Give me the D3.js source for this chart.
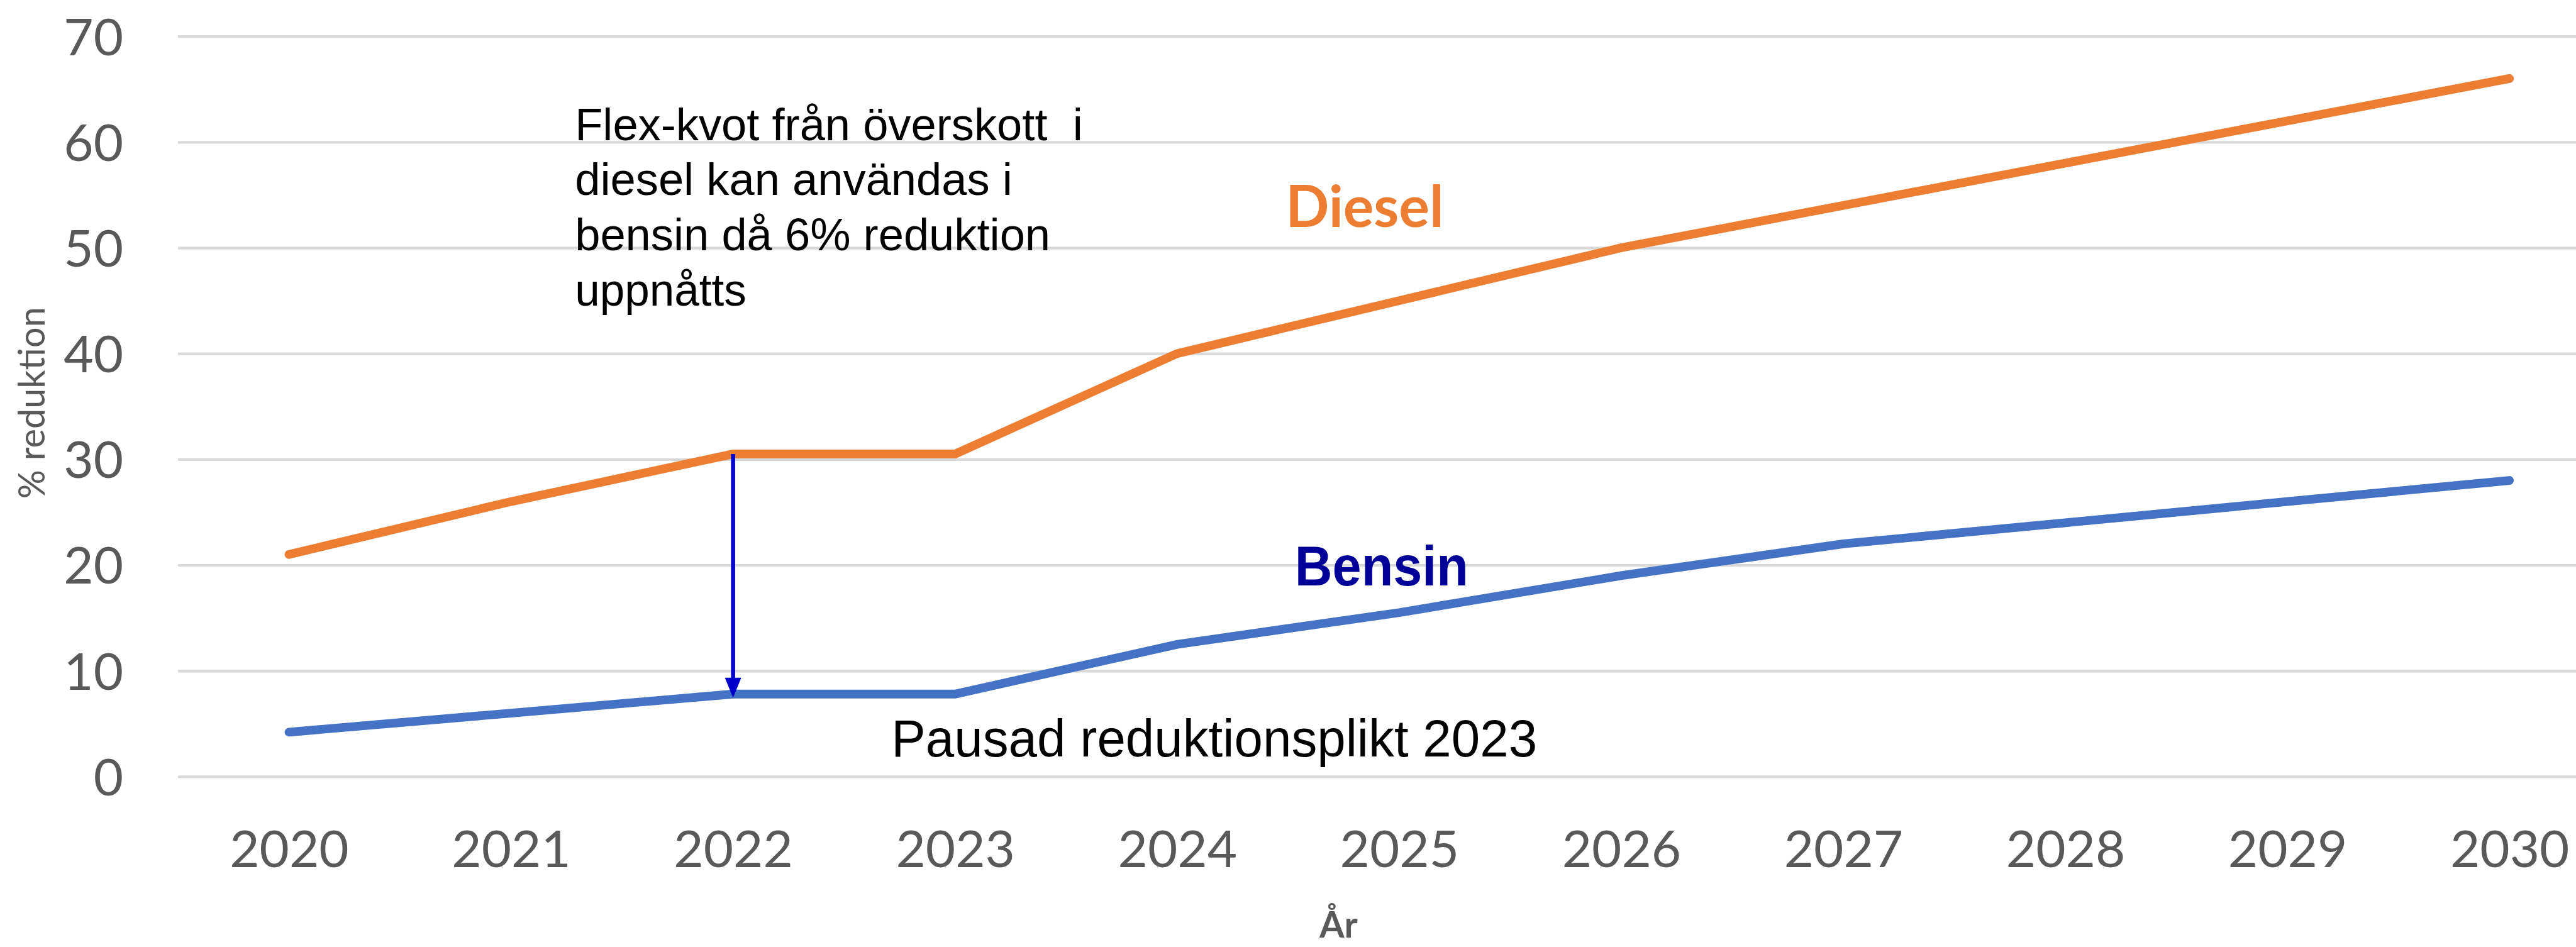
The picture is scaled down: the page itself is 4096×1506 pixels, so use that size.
<!DOCTYPE html>
<html>
<head>
<meta charset="utf-8">
<script src="https://cdn.jsdelivr.net/npm/d3@7"></script>
<style>
	html, body { margin: 0; padding: 0; background: #fff; }
	svg { display: block; }
	text { white-space: pre; }
</style>
</head>
<body>
<div id="chart"></div>
<script>
// data
var years = ['2020', '2021', '2022', '2023', '2024', '2025', '2026', '2027', '2028', '2029', '2030'];
var diesel = [21, 26, 30.5, 30.5, 40, 45, 50, 54, 58, 62, 66];
var bensin = [4.2, 6, 7.8, 7.8, 12.5, 15.5, 19, 22, 24, 26, 28];
var yTicks = [0, 10, 20, 30, 40, 50, 60, 70];
var flexLines = ['Flex-kvot från överskott  i', 'diesel kan användas i', 'bensin då 6% reduktion', 'uppnåtts'];

// everything is laid out in reference pixels and scaled down
var k = 0.86;
var width = 4096, height = 1506;

var svg = d3.select('#chart')
	.append('svg')
	.attr('width', width)
	.attr('height', height)
	.style('overflow', 'hidden');

// scales
var x = d3.scalePoint()
	.domain(years)
	.range([329 * k, 4845 * k])
	.padding(0.5);
var y = d3.scaleLinear()
	.domain([0, 70])
	.range([1436 * k, 67 * k]);

// gridlines + y labels
var yAxis = svg.append('g')
	.attr('transform', 'translate(' + (329 * k) + ',0)')
	.call(d3.axisLeft(y).tickValues(yTicks).tickSize(-(4845 - 329) * k).tickPadding(0));
yAxis.select('.domain').remove();
yAxis.selectAll('.tick line')
	.attr('stroke', '#d9d9d9')
	.attr('stroke-width', 4.3);
yAxis.selectAll('.tick text')
	.attr('x', -(329 - 228) * k)
	.attr('dy', null)
	.attr('y', 0.36 * 81.7)
	.attr('fill', '#595959')
	.style('font-family', 'Lato, sans-serif')
	.style('font-size', '81.7px');

// x labels
var xAxis = svg.append('g')
	.attr('transform', 'translate(0,' + (1436 * k) + ')')
	.call(d3.axisBottom(x).tickSize(0));
xAxis.select('.domain').remove();
xAxis.selectAll('.tick text')
	.attr('dy', null)
	.attr('y', (1604 - 1436) * k)
	.attr('fill', '#595959')
	.style('font-family', 'Lato, sans-serif')
	.style('font-size', '81.7px');

// axis titles
svg.append('text')
	.attr('transform', 'translate(' + (82 * k) + ',' + (745 * k) + ') rotate(-90)')
	.attr('text-anchor', 'middle')
	.attr('fill', '#595959')
	.style('font-family', 'Lato, sans-serif')
	.style('font-size', '57.6px')
	.text('% reduktion');
svg.append('text')
	.attr('x', 2475 * k)
	.attr('y', 1734 * k)
	.attr('text-anchor', 'middle')
	.attr('fill', '#595959')
	.style('font-family', 'Lato, sans-serif')
	.style('font-weight', 'bold')
	.style('font-size', '57px')
	.text('År');

// lines
var line = d3.line()
	.x(function (d, i) { return x(years[i]); })
	.y(function (d) { return y(d); });

svg.append('path')
	.datum(diesel)
	.attr('d', line)
	.attr('fill', 'none')
	.attr('stroke', '#ed7d31')
	.attr('stroke-width', 13.8)
	.attr('stroke-linecap', 'round');
svg.append('path')
	.datum(bensin)
	.attr('d', line)
	.attr('fill', 'none')
	.attr('stroke', '#4472c4')
	.attr('stroke-width', 13.8)
	.attr('stroke-linecap', 'round');

// series labels
svg.append('text')
	.attr('x', 2377 * k)
	.attr('y', 420 * k)
	.attr('fill', '#ed7d31')
	.style('font-family', 'Lato, sans-serif')
	.style('font-weight', 'bold')
	.style('font-size', '91px')
	.text('Diesel');
svg.append('text')
	.attr('x', 2394 * k)
	.attr('y', 1083 * k)
	.attr('fill', '#000099')
	.attr('textLength', 321 * k)
	.attr('lengthAdjust', 'spacingAndGlyphs')
	.style('font-family', '"Liberation Sans", Arial, sans-serif')
	.style('font-weight', 'bold')
	.style('font-size', '89px')
	.text('Bensin');

// annotation text
var flexWidths = [939, 809, 879, 317];
svg.append('g')
	.selectAll('text')
	.data(flexLines)
	.enter()
	.append('text')
	.attr('x', 1063 * k)
	.attr('y', function (d, i) { return (259 + i * 102) * k; })
	.attr('textLength', function (d, i) { return flexWidths[i] * k; })
	.attr('lengthAdjust', 'spacingAndGlyphs')
	.attr('fill', '#000')
	.style('font-family', '"Liberation Sans", Arial, sans-serif')
	.style('font-size', '73px')
	.text(function (d) { return d; });

svg.append('text')
	.attr('x', 1648 * k)
	.attr('y', 1399 * k)
	.attr('textLength', 1194 * k)
	.attr('lengthAdjust', 'spacingAndGlyphs')
	.attr('fill', '#000')
	.style('font-family', '"Liberation Sans", Arial, sans-serif')
	.style('font-size', '84px')
	.text('Pausad reduktionsplikt 2023');

// arrow from diesel 2022 down to bensin 2022
var ax = x('2022');
var y0 = y(diesel[2]);
var y1 = y(bensin[2]) + 6;
var headLen = 32, headW = 13;
svg.append('line')
	.attr('x1', ax)
	.attr('x2', ax)
	.attr('y1', y0)
	.attr('y2', y1 - headLen + 2)
	.attr('stroke', '#0000cc')
	.attr('stroke-width', 6.5);
svg.append('path')
	.attr('d', 'M' + (ax - headW) + ',' + (y1 - headLen) + 'L' + (ax + headW) + ',' + (y1 - headLen) + 'L' + ax + ',' + y1 + 'Z')
	.attr('fill', '#0000cc');
</script>
</body>
</html>
